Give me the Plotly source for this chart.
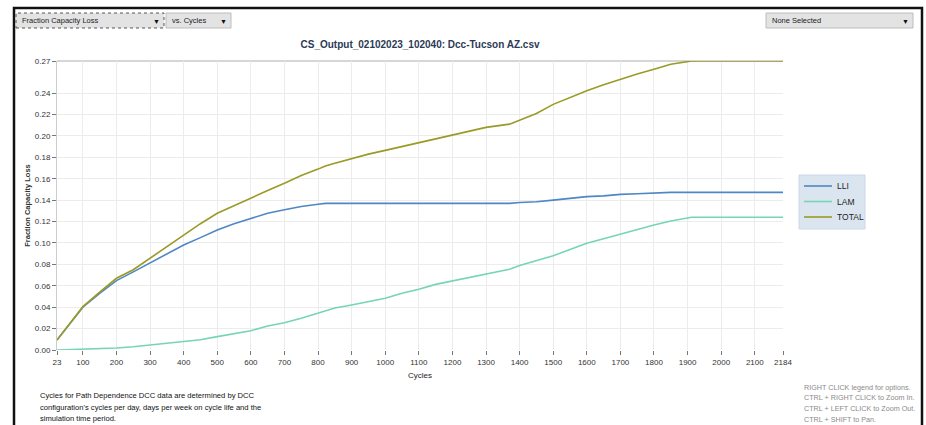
import plotly.graph_objects as go

# Degradation data (fraction capacity loss vs. cycle count)
cycles = [23, 100, 150, 200, 250, 300, 350, 400, 450, 500, 550, 600, 650, 700, 750,
          800, 822, 850, 900, 950, 1000, 1050, 1100, 1150, 1200, 1250, 1300, 1370,
          1400, 1450, 1500, 1550, 1600, 1650, 1700, 1750, 1800, 1850, 1912, 2000,
          2100, 2184]

lli = [0.0093, 0.040, 0.053, 0.0648, 0.073, 0.0816, 0.090, 0.0981, 0.105, 0.1121,
       0.118, 0.123, 0.1277, 0.131, 0.134, 0.1362, 0.137, 0.137, 0.137, 0.137,
       0.137, 0.137, 0.137, 0.137, 0.137, 0.137, 0.137, 0.137, 0.1378, 0.1385,
       0.140, 0.142, 0.1433, 0.144, 0.1454, 0.146, 0.1466, 0.1473, 0.1473, 0.1473,
       0.1473, 0.1473]

lam = [0.0, 0.0006, 0.001, 0.0018, 0.003, 0.0047, 0.0062, 0.0084, 0.0095, 0.0125,
       0.0156, 0.018, 0.0224, 0.0255, 0.0296, 0.0345, 0.036, 0.0392, 0.042, 0.045,
       0.0483, 0.053, 0.0567, 0.0613, 0.0645, 0.068, 0.0716, 0.0755, 0.079, 0.0835,
       0.0881, 0.094, 0.0997, 0.104, 0.1084, 0.113, 0.1168, 0.1205, 0.124, 0.124,
       0.124, 0.124]

total = [0.0093, 0.0405, 0.054, 0.067, 0.075, 0.0856, 0.096, 0.107, 0.118, 0.1277,
         0.135, 0.1417, 0.149, 0.1557, 0.163, 0.169, 0.172, 0.1745, 0.179, 0.1830,
         0.1865, 0.190, 0.1937, 0.197, 0.201, 0.2045, 0.208, 0.211, 0.215, 0.221,
         0.2295, 0.236, 0.2423, 0.2478, 0.2529, 0.2578, 0.2622, 0.2669, 0.27, 0.27,
         0.27, 0.27]

x_ticks = [23, 100, 200, 300, 400, 500, 600, 700, 800, 900, 1000, 1100, 1200, 1300,
           1400, 1500, 1600, 1700, 1800, 1900, 2000, 2100, 2184]
y_ticks = [0.00, 0.02, 0.04, 0.06, 0.08, 0.10, 0.12, 0.14, 0.16, 0.18, 0.20, 0.22,
           0.24, 0.27]
y_tick_text = [f"{v:.2f}" for v in y_ticks]

series_names = ["LLI", "LAM", "TOTAL"]
series_colors = ["#4f86c4", "#76d5b2", "#9a9a26"]

note_lines = ["Cycles for Path Dependence DCC data are determined by DCC",
              "configuration's cycles per day, days per week on cycle life and the",
              "simulation time period."]
help_lines = ["RIGHT CLICK legend for options.",
              "CTRL + RIGHT CLICK to Zoom In.",
              "CTRL + LEFT CLICK to Zoom Out.",
              "CTRL + SHIFT to Pan."]

W, H = 926, 425
L, R, T, B = 57, 783, 61, 350   # plot area in pixels


def px(x):
    return (x - L) / (R - L)


def py(y):
    return (B - y) / (B - T)


FONT = "Liberation Sans, Arial, sans-serif"

fig = go.Figure()
for name, vals, col in zip(series_names, [lli, lam, total], series_colors):
    fig.add_trace(go.Scatter(x=cycles, y=vals, mode="lines", name=name,
                             line=dict(color=col, width=1.6), showlegend=False))

shapes = []
annotations = []

# outer frame of the panel
shapes.append(dict(type="rect", xref="paper", yref="paper",
                   x0=px(14), x1=px(922), y0=py(440), y1=py(8),
                   line=dict(color="#111111", width=2.5), layer="above"))
# top border of plot area
shapes.append(dict(type="line", xref="paper", yref="paper",
                   x0=0, x1=1, y0=1, y1=1,
                   line=dict(color="#c8c8c8", width=1.5), layer="below"))


def text_at(x, y, s, size, color, anchor="left"):
    annotations.append(dict(xref="paper", yref="paper", x=px(x), y=py(y), text=s,
                            showarrow=False, xanchor=anchor, yanchor="middle",
                            font=dict(family=FONT, size=size, color=color)))


def dropdown(x0, x1, y0, y1, label, dotted=False):
    shapes.append(dict(type="rect", xref="paper", yref="paper",
                       x0=px(x0), x1=px(x1), y0=py(y1), y1=py(y0),
                       fillcolor="#e3e3e3",
                       line=dict(color="#555555" if dotted else "#bdbdbd",
                                 width=1, dash="dot" if dotted else "solid")))
    text_at(x0 + 4, (y0 + y1) / 2, label, 7.5, "#222222")
    text_at(x1 - 8, (y0 + y1) / 2 + 0.5, "▼", 7, "#111111", anchor="center")


dropdown(16, 164, 13, 28, "Fraction Capacity Loss", dotted=True)
dropdown(166, 231, 13, 28, "vs. Cycles")
dropdown(766, 913, 13, 28, "None Selected")

# legend panel
shapes.append(dict(type="rect", xref="paper", yref="paper",
                   x0=px(799), x1=px(865), y0=py(229), y1=py(175),
                   fillcolor="#dbe5f0", line=dict(color="#cbd8e8", width=1)))
for i, (name, col) in enumerate(zip(series_names, series_colors)):
    yy = 186 + 15.5 * i
    shapes.append(dict(type="line", xref="paper", yref="paper",
                       x0=px(804), x1=px(832), y0=py(yy), y1=py(yy),
                       line=dict(color=col, width=1.6)))
    text_at(835, yy, name, 8.5, "#222222")

for i, line in enumerate(note_lines):
    text_at(38, 395 + 12 * i, line, 7.6, "#111111")
for i, line in enumerate(help_lines):
    text_at(802, 387 + 10.7 * i, line, 7.2, "#8a8a8a")

fig.update_layout(
    width=W, height=H,
    margin=dict(l=L, r=W - R, t=T, b=H - B),
    paper_bgcolor="white", plot_bgcolor="white",
    title=dict(text="<b>CS_Output_02102023_102040: Dcc-Tucson AZ.csv</b>",
               x=px(420), xref="paper", xanchor="center",
               y=1 - 44 / H, yanchor="middle",
               font=dict(family=FONT, size=10, color="#2b3a55")),
    showlegend=False,
    shapes=shapes,
    annotations=annotations,
)

fig.update_xaxes(range=[23, 2184], tickvals=x_ticks, ticktext=[str(v) for v in x_ticks],
                 showgrid=True, gridcolor="#ececec", gridwidth=1,
                 zeroline=False, showline=False,
                 ticks="outside", ticklen=4, tickcolor="#777777",
                 tickfont=dict(family=FONT, size=8, color="#333333"),
                 title=dict(text="Cycles", font=dict(family=FONT, size=8, color="#222222"),
                            standoff=6))
fig.update_yaxes(range=[0, 0.27], tickvals=y_ticks, ticktext=y_tick_text,
                 showgrid=True, gridcolor="#ececec", gridwidth=1,
                 zeroline=False, showline=True, linecolor="#cccccc", linewidth=1,
                 ticks="outside", ticklen=4, tickcolor="#777777",
                 tickfont=dict(family=FONT, size=8, color="#333333"),
                 title=dict(text="<b>Fraction Capacity Loss</b>",
                            font=dict(family=FONT, size=7.5, color="#333333"),
                            standoff=3))

fig.write_html("out.html")
